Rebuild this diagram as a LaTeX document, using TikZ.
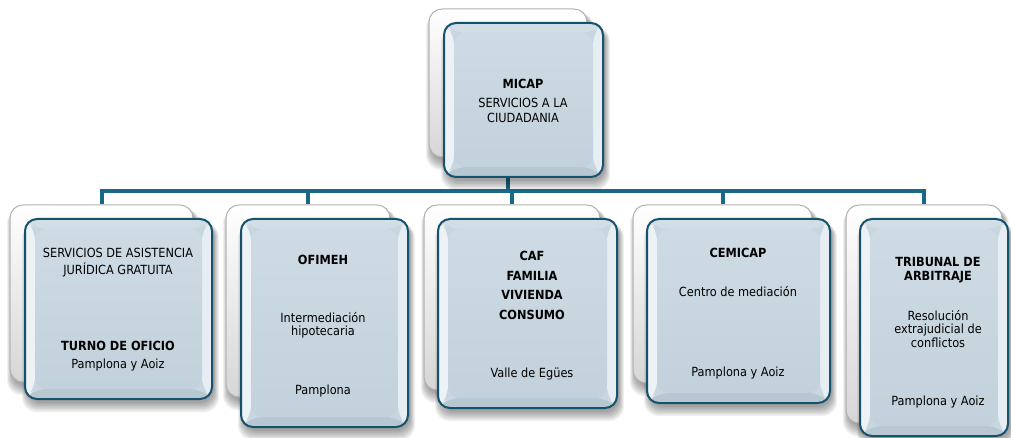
\documentclass[tikz,border=0pt]{standalone}
\usepackage{fontspec}
\setmainfont{DejaVu Sans Condensed}
\usetikzlibrary{calc}
\pgfdeclarelayer{bg}
\pgfsetlayers{bg,main}
\definecolor{linec}{RGB}{26,104,136}
\definecolor{edgec}{RGB}{22,82,108}
\definecolor{panel}{RGB}{200,214,224}
\definecolor{paneltop}{RGB}{206,219,228}
\definecolor{panelbot}{RGB}{194,209,219}
\definecolor{bevL}{RGB}{236,242,246}
\definecolor{bevR}{RGB}{230,238,243}
\definecolor{bevT}{RGB}{210,222,230}
\definecolor{bevB}{RGB}{184,200,211}
\tikzset{
  backbox/.style={draw=black!30, line width=1pt, rounded corners=13pt,
    top color=white, bottom color=black!16, inner sep=0pt},
  frontbox/.style={draw=edgec, line width=2pt, rounded corners=12pt,
    fill=panel, inner sep=0pt,
    path picture={
      \coordinate (pA) at (path picture bounding box.south west);
      \coordinate (pB) at (path picture bounding box.north east);
      \coordinate (iA) at ($(pA)+(10pt,10pt)$);
      \coordinate (iB) at ($(pB)+(-10pt,-10pt)$);
      \fill[bevT] (pA|-pB) -- (pB) -- (iB) -- (iA|-iB) -- cycle;
      \fill[bevB] (pA) -- (pB|-pA) -- (iB|-iA) -- (iA) -- cycle;
      \fill[bevL] (pA) -- (pA|-pB) -- (iA|-iB) -- (iA) -- cycle;
      \fill[bevR] (pB|-pA) -- (pB) -- (iB) -- (iB|-iA) -- cycle;
      \shade[top color=paneltop, bottom color=panelbot] (iA) rectangle (iB);
    }},
  txt/.style={anchor=base, inner sep=0pt, text=black,
    font=\fontsize{12.6}{14}\selectfont},
  ttl/.style={txt, font=\fontsize{12.6}{14}\selectfont\bfseries},
  bus/.style={draw=linec, line width=4pt, line join=miter},
}
% soft shadow: x1,y1,x2,y2 (top-left / bottom-right in pixels)
\newcommand\softshade[4]{%
  \foreach \k in {0,...,6}{%
    \fill[black, opacity=0.06, rounded corners=14pt]
      ({#1+2-\k*0.8},{#2+4}) rectangle ({#3+2+\k*0.8},{#4+4+\k*1.5});}%
}
% card pair: name, back x1 y1 x2 y2, front x1 y1 x2 y2
\newcommand\cardpair[9]{%
  \softshade{#2}{#3}{#4}{#5}%
  \node[backbox, minimum width={#4-#2}, minimum height={#5-#3}]
    (b#1) at ({(#2+#4)/2},{(#3+#5)/2}) {};
  \softshade{#6}{#7}{#8}{#9}%
  \node[frontbox, minimum width={#8-#6}, minimum height={#9-#7}]
    (f#1) at ({(#6+#8)/2},{(#7+#9)/2}) {};
}
\begin{document}
\begin{tikzpicture}[x=1pt, y=-1pt]
\useasboundingbox (0,0) rectangle (1011,438);
\coordinate (busy) at (0,191);

\cardpair{0}{429}{9}{587}{157}{444}{23}{603}{177}
\cardpair{1}{10}{205}{193}{382}{25}{219}{212}{399}
\cardpair{2}{226}{205}{390}{397}{241}{219}{408}{427}
\cardpair{3}{424}{205}{600}{390}{438}{219}{617}{408}
\cardpair{4}{633}{205}{812}{383}{647}{219}{830}{403}
\cardpair{5}{846}{205}{1002}{423}{860}{219}{1008}{436}

\begin{pgfonlayer}{bg}
  \fill[white] (0,0) rectangle (1011,438);
  \draw[bus] (b0.south) -- (b0.south |- busy);
  \draw[bus] (b1.north) -- (b1.north |- busy) -- (b5.north |- busy) -- (b5.north);
  \foreach \i in {2,3,4}{\draw[bus] (b\i.north |- busy) -- (b\i.north);}
\end{pgfonlayer}

% top
\node[ttl] (t0a) at (523,89) {MICAP};
\node[txt] (t0b) at (523,108) {SERVICIOS A LA};
\node[txt] (t0c) at (523,123) {CIUDADANIA};
% child 1
\node[txt] (t1a) at (118,258) {SERVICIOS DE ASISTENCIA};
\node[txt] (t1b) at (118,274) {JURÍDICA GRATUITA};
\node[ttl] (t1c) at (118,350) {TURNO DE OFICIO};
\node[txt] (t1d) at (118,368) {Pamplona y Aoiz};
% child 2
\node[ttl] (t2a) at (323,265) {OFIMEH};
\node[txt] (t2b) at (323,322) {Intermediación};
\node[txt] (t2c) at (323,335) {hipotecaria};
\node[txt] (t2d) at (323,394) {Pamplona};
% child 3
\node[ttl] (t3a) at (532,260) {CAF};
\node[ttl] (t3b) at (532,280) {FAMILIA};
\node[ttl] (t3c) at (532,299) {VIVIENDA};
\node[ttl] (t3d) at (532,319) {CONSUMO};
\node[txt] (t3e) at (532,377) {Valle de Egües};
% child 4
\node[ttl] (t4a) at (738,258) {CEMICAP};
\node[txt] (t4b) at (738,296) {Centro de mediación};
\node[txt] (t4c) at (738,376) {Pamplona y Aoiz};
% child 5
\node[ttl] (t5a) at (938,266) {TRIBUNAL DE};
\node[ttl] (t5b) at (938,280) {ARBITRAJE};
\node[txt] (t5c) at (938,320) {Resolución};
\node[txt] (t5d) at (938,333) {extrajudicial de};
\node[txt] (t5e) at (938,347) {conflictos};
\node[txt] (t5f) at (938,405) {Pamplona y Aoiz};
\end{tikzpicture}
\end{document}
